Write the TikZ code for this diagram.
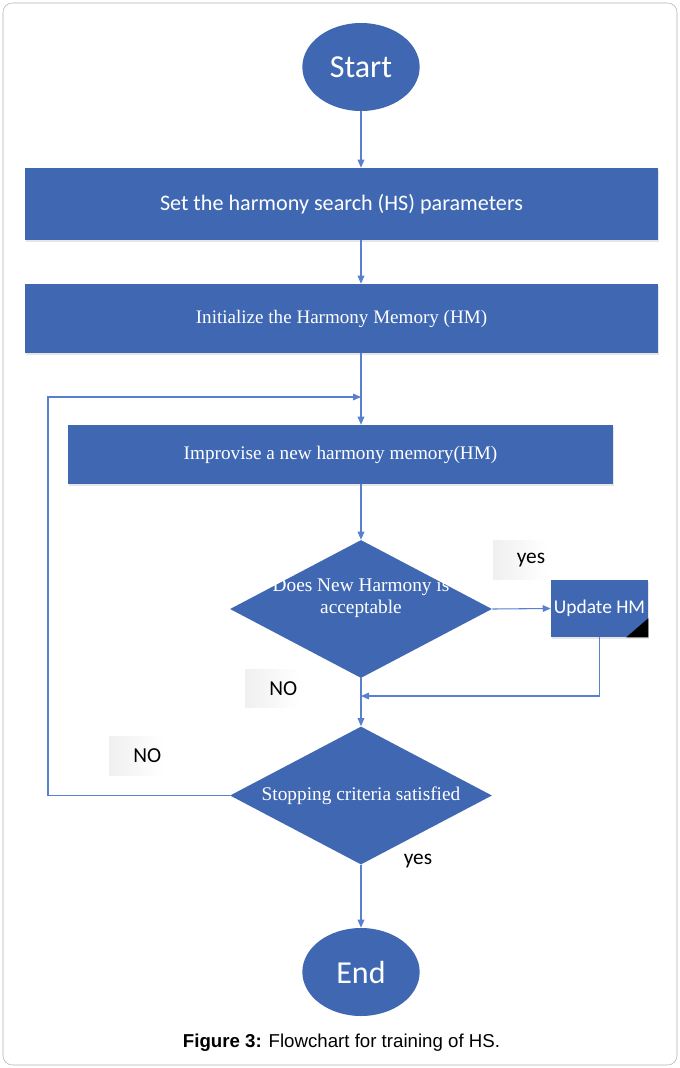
\documentclass[tikz,border=0pt]{standalone}
\usepackage{fontspec}
\setmainfont{Liberation Serif}
\setsansfont{Liberation Sans}
\newfontfamily\calib{Carlito}
\usepackage{tikz}
\usetikzlibrary{positioning, arrows.meta, shapes.geometric, shadows, calc}
\definecolor{hsblue}{RGB}{64,104,178}
\definecolor{hsline}{RGB}{88,128,206}

\begin{document}
\begin{tikzpicture}[x=0.75pt, y=-0.75pt, >={Triangle[length=6pt, width=5pt]},
  term/.style={ellipse, fill=hsblue, text=white, minimum width=88pt,
    minimum height=66pt, inner sep=0pt, font=\calib\fontsize{24}{28}\selectfont},
  blk/.style={rectangle, fill=hsblue, text=white, inner sep=0pt,
    drop shadow={shadow xshift=0.8pt, shadow yshift=-1.5pt, opacity=0.2}},
  dec/.style={diamond, aspect=1.9, fill=hsblue, inner sep=0pt,
    minimum width=196.5pt, minimum height=103.5pt},
  dectxt/.style={text=white, align=center, inner sep=0pt,
    font=\fontsize{14.5}{16.5}\selectfont},
  flow/.style={draw=hsline, line width=0.8pt, ->},
  lbl/.style={left color=black!6, right color=white, minimum width=41pt,
    minimum height=29pt, text width=37pt, align=right, inner sep=2pt,
    font=\calib\fontsize{16}{19}\selectfont}]
  \useasboundingbox (0,0) rectangle (680,1068);
  \draw[black!30, rounded corners=7pt] (3,3) rectangle (677,1065);

  \node[term] (start) at (361,67) {Start};
  \node[blk, minimum width=474.75pt, minimum height=54pt,
        font=\calib\fontsize{16.6}{19}\selectfont] (param) at (341.5,204)
       {Set the harmony search (HS) parameters};
  \node[blk, minimum width=474.75pt, minimum height=51.75pt,
        font=\fontsize{14.3}{17}\selectfont] (init) at (341.5,318.5)
       {Initialize the Harmony Memory (HM)};
  \node[blk, minimum width=408.75pt, minimum height=44.25pt,
        font=\fontsize{14.4}{17}\selectfont] (impr) at (340.5,454.5)
       {Improvise a new harmony memory(HM)};
  \node[dec] (accept) at (361,609) {};
  \node[dectxt, yshift=8pt] (acctxt) at (accept) {Does New Harmony is\\acceptable};
  \node[blk, minimum width=72.75pt, minimum height=42.75pt,
        font=\calib\fontsize{14.6}{17}\selectfont] (update) at (599.5,608.5)
       {Update HM};
  \fill (update.south east) -- ++(-22,0) -- ++(22,-19) -- cycle;
  \node[dec] (stop) at (361,795.5) {};
  \node[dectxt] (stoptxt) at (stop) {Stopping criteria satisfied};
  \node[term] (end) at (361,972) {End};

  \node[lbl] (yes1) at (520.5,560) {yes};
  \node[lbl] (no1) at (272.5,688.5) {NO};
  \node[lbl] (no2) at (136.5,756) {NO};
  \node[font=\calib\fontsize{16}{19}\selectfont] (yes2) at (418,861) {yes};

  \coordinate (back) at (48,397);
  \coordinate (merge) at (361,696);
  \draw[flow] (start) -- (start |- param.north);
  \draw[flow] (start |- param.south) -- (start |- init.north);
  \draw[flow] (start |- init.south) -- (start |- impr.north);
  \draw[flow] (stop.west) -| (back) -- (start |- back);
  \draw[flow] (start |- impr.south) -- (accept.north);
  \draw[flow] (accept.east) -- (update.west);
  \draw[flow] (update.south) |- (merge);
  \draw[flow] (accept.south) -- (stop.north);
  \draw[flow] (stop.south) -- (end);

  \node[font=\sffamily\fontsize{14}{17}\selectfont] (cap) at (341.5,1043)
       {\textbf{Figure 3:} Flowchart for training of HS.};
\end{tikzpicture}
\end{document}
